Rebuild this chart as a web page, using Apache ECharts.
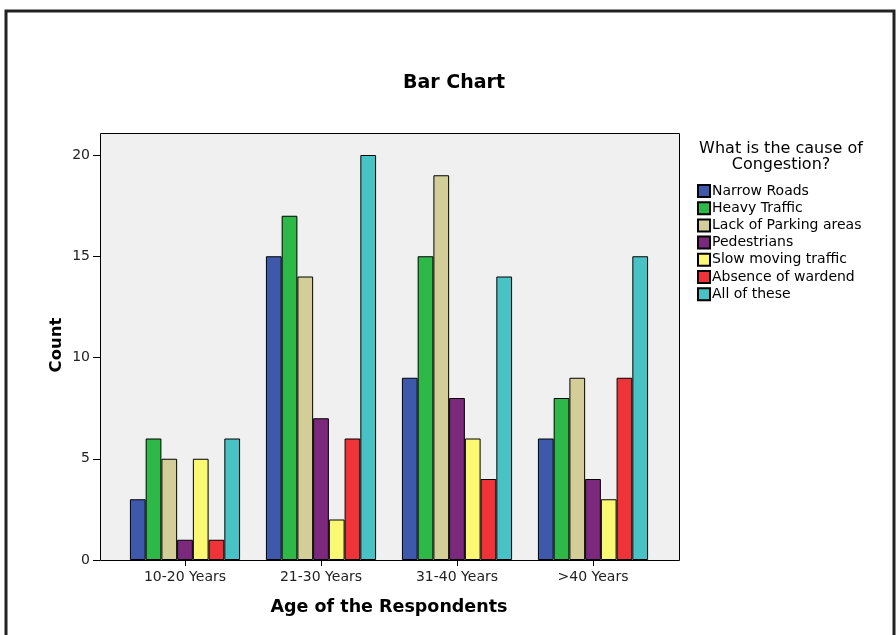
<!DOCTYPE html>
<html><head><meta charset="utf-8">
<script src="https://cdn.jsdelivr.net/npm/echarts@6/dist/echarts.min.js"></script>
<style>html,body{margin:0;padding:0;background:#fff}#c{width:896px;height:635px}</style>
</head><body><div id="c"></div>
<script>
const categories = ['10-20 Years', '21-30 Years', '31-40 Years', '>40 Years'];
const seriesNames = ['Narrow Roads', 'Heavy Traffic', 'Lack of Parking areas', 'Pedestrians', 'Slow moving traffic', 'Absence of wardend', 'All of these'];
const narrowRoads = [3, 15, 9, 6];
const heavyTraffic = [6, 17, 15, 8];
const lackParking = [5, 14, 19, 9];
const pedestrians = [1, 7, 8, 4];
const slowTraffic = [5, 2, 6, 3];
const absenceWardend = [1, 6, 4, 9];
const allOfThese = [6, 20, 14, 15];
const yTicks = [0, 5, 10, 15, 20];
const colors = ['#3E58AC', '#2EB848', '#D3CE97', '#7C287D', '#FBF873', '#EF3338', '#48C2C5'];

const values = [narrowRoads, heavyTraffic, lackParking, pedestrians, slowTraffic, absenceWardend, allOfThese];
const FONT = '"DejaVu Sans", Verdana, sans-serif';

const chart = echarts.init(document.getElementById('c'), null, {renderer: 'canvas'});
chart.setOption({
  animation: false,
  backgroundColor: '#fff',
  color: colors,
  legend: {
    orient: 'vertical', left: 697, top: 184, padding: 0,
    itemWidth: 12, itemHeight: 12, itemGap: 3.2,
    icon: 'rect',
    textStyle: {fontFamily: FONT, fontSize: 14, color: '#000', lineHeight: 14, padding: [0, 0, 0, -3]},
    data: seriesNames
  },
  grid: {left: 117, right: 235, top: 155, bottom: 75, containLabel: false},
  xAxis: {
    type: 'category', data: categories,
    axisLine: {show: false},
    axisTick: {show: true, alignWithLabel: true, length: 6, lineStyle: {color: '#000'}},
    axisLabel: {fontFamily: FONT, fontSize: 14, color: '#222', margin: 10}
  },
  yAxis: {
    type: 'value', min: yTicks[0], max: yTicks[yTicks.length - 1], interval: 5, offset: 17,
    axisLine: {show: false},
    axisTick: {show: true, length: 7, lineStyle: {color: '#000'}},
    splitLine: {show: false},
    axisLabel: {fontFamily: FONT, fontSize: 14, color: '#222', margin: 10}
  },
  graphic: [
    {type: 'rect', z: -10, shape: {x: 100.5, y: 133.5, width: 579, height: 427},
     style: {fill: '#F0F0F0', stroke: '#000', lineWidth: 1}},
    {type: 'text', x: 454, y: 83, style: {text: 'Bar Chart', font: 'bold 19px ' + FONT, fill: '#000', align: 'center', verticalAlign: 'middle'}},
    {type: 'text', x: 781, y: 141, style: {text: 'What is the cause of\nCongestion?', font: '16px ' + FONT, lineHeight: 16, fill: '#000', align: 'center', verticalAlign: 'top'}},
    {type: 'text', x: 57, y: 345, rotation: Math.PI / 2, style: {text: 'Count', font: 'bold 16.5px ' + FONT, fill: '#000', align: 'center', verticalAlign: 'middle'}},
    {type: 'text', x: 389, y: 607, style: {text: 'Age of the Respondents', font: 'bold 17.5px ' + FONT, fill: '#000', align: 'center', verticalAlign: 'middle'}},
    {type: 'polyline', z: 10, shape: {points: [[6, 635], [6, 11], [894, 11], [894, 635]]},
     style: {stroke: '#222', lineWidth: 3, fill: null}}
  ],
  series: values.map((v, i) => ({
    name: seriesNames[i], type: 'bar', data: v,
    barGap: '0%', barCategoryGap: '19%',
    itemStyle: {color: colors[i], borderColor: '#000', borderWidth: 1}
  }))
});
</script></body></html>
